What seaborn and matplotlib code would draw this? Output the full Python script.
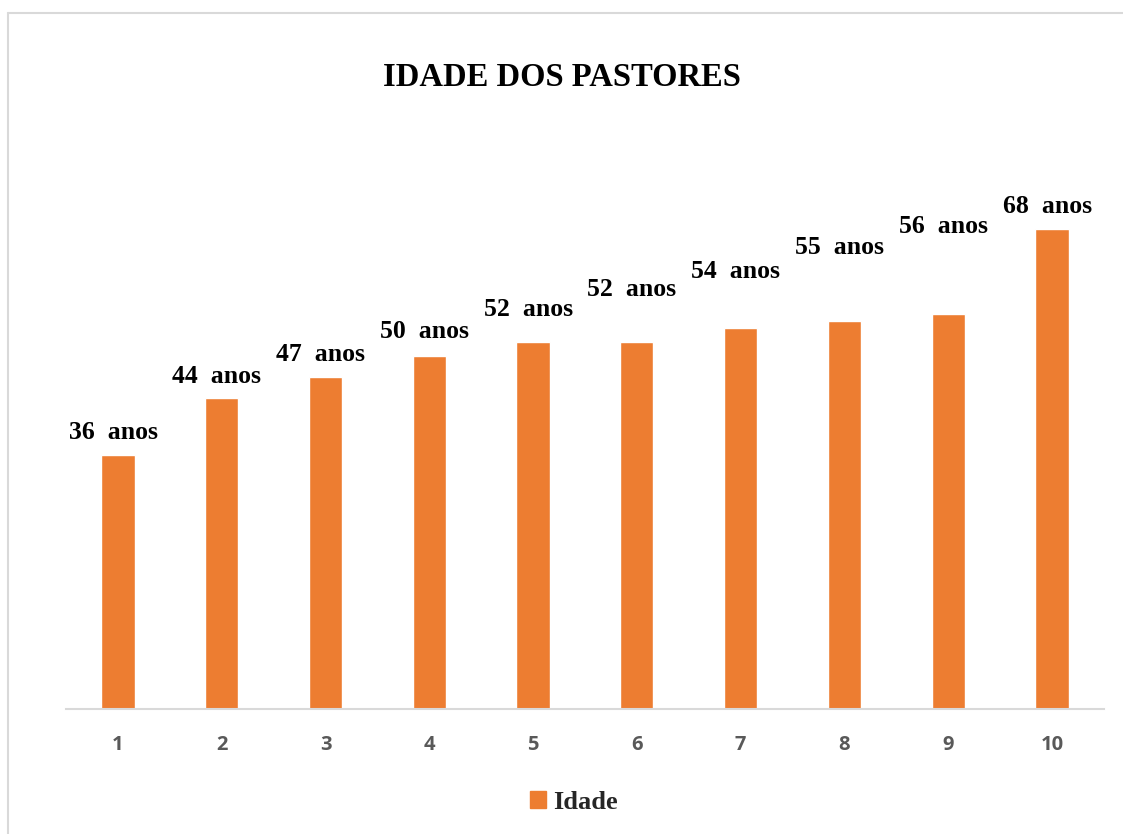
import matplotlib.pyplot as plt
import matplotlib.patches as mpatches
import pandas as pd
import seaborn as sns

# dados do gráfico
pastores = ["1", "2", "3", "4", "5", "6", "7", "8", "9", "10"]
idades = [36, 44, 47, 50, 52, 52, 54, 55, 56, 68]
rotulos = ["36  anos", "44  anos", "47  anos", "50  anos", "52  anos",
           "52  anos", "54  anos", "55  anos", "56  anos", "68  anos"]

laranja = "#ED7D31"
serif = ["Liberation Serif", "DejaVu Serif"]

df = pd.DataFrame({"pastor": pastores, "idade": idades})

sns.set_theme(style="white")
fig = plt.figure(figsize=(11.23, 8.34), dpi=100)
ax = fig.add_axes([0.0588, 0.150, 0.9242, 0.677])

sns.barplot(data=df, x="pastor", y="idade", color=laranja, saturation=1,
            width=0.32, ax=ax)

# rótulos foram arrastados à mão no original (deslocamento em pontos)
desloc = [11.5, 11, 12, 13, 19, 33, 36, 48, 58, 11.5]
for p, txt, dy in zip(ax.patches, rotulos, desloc):
    ax.annotate(txt, (p.get_x() + p.get_width() / 2, p.get_height()),
                xytext=(-3.5, dy), textcoords="offset points",
                ha="center", va="baseline", fontsize=18.5, fontweight="bold",
                family=serif, color="black")

ax.set_xlim(-0.5, 9.5)
ax.set_ylim(0, 80)
ax.set_xlabel("")
ax.set_ylabel("")
ax.set_yticks([])
for s in ["top", "right", "left"]:
    ax.spines[s].set_visible(False)
ax.spines["bottom"].set_color("#D9D9D9")
ax.spines["bottom"].set_linewidth(1.5)
ax.tick_params(axis="x", length=0, pad=18.5)
for t in ax.get_xticklabels():
    t.set_fontfamily(["Open Sans", "DejaVu Sans"])
    t.set_fontweight("bold")
    t.set_fontsize(14.5)
    t.set_color("#595959")

fig.text(0.5, 0.907, "IDADE DOS PASTORES", ha="center", va="center",
         fontsize=23.5, fontweight="bold", family=serif, color="black")

# legenda
h = mpatches.Patch(color=laranja, label="Idade")
fig.legend(handles=[h], loc="center", bbox_to_anchor=(0.511, 0.038),
           frameon=False, handlelength=0.6, handleheight=0.6,
           handletextpad=0.25,
           prop={"family": serif, "weight": "bold", "size": 19})

# moldura
fig.add_artist(plt.Line2D([0.007, 1.0], [0.985, 0.985], color="#D9D9D9",
                          lw=1.5, transform=fig.transFigure))
fig.add_artist(plt.Line2D([0.007, 0.007], [0.0, 0.985], color="#D9D9D9",
                          lw=1.5, transform=fig.transFigure))

fig.savefig("out.png", dpi=100, facecolor="white")
